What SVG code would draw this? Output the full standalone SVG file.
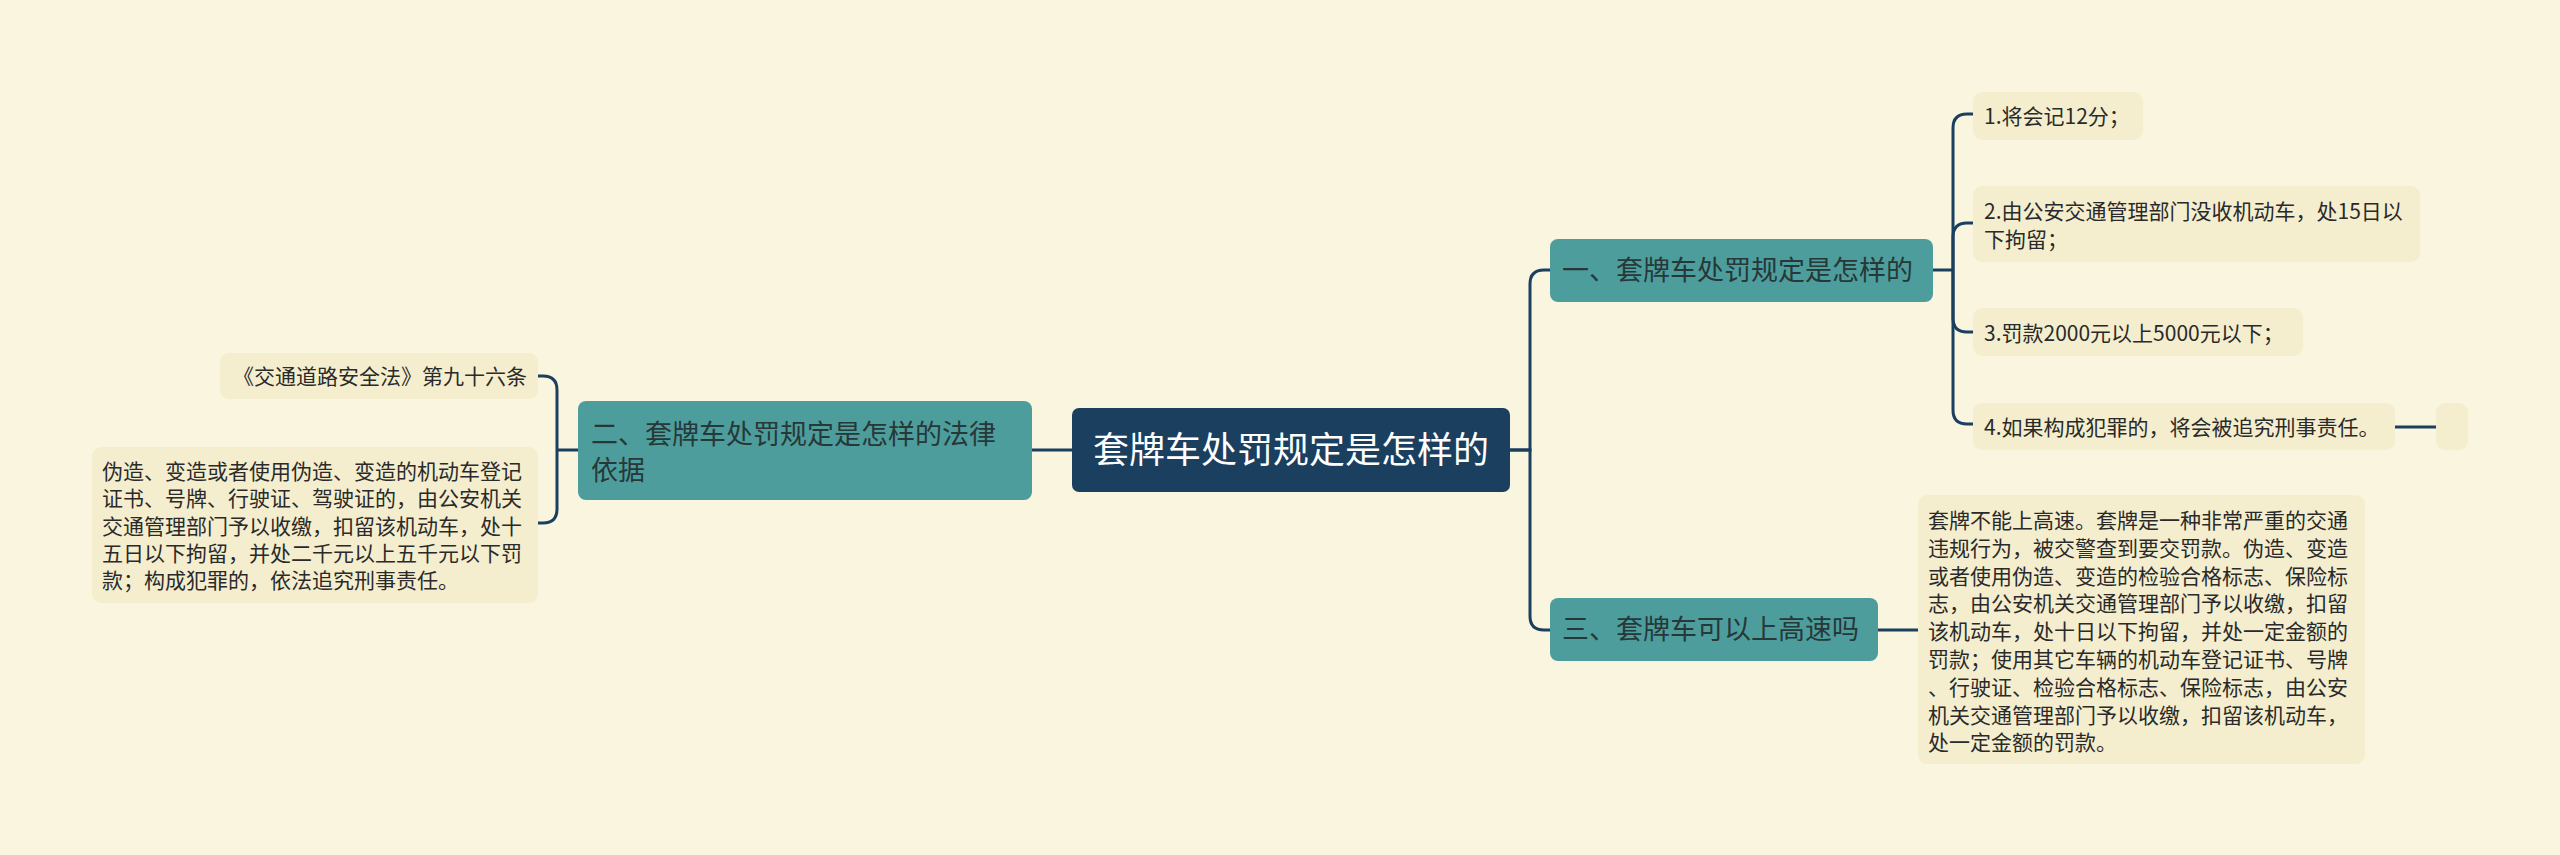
<svg xmlns="http://www.w3.org/2000/svg" width="2560" height="855" viewBox="0 0 2560 855">
<style>
text{font-family:"Noto Sans CJK SC","Noto Sans",sans-serif;}
.root{fill:#1a3f5f;}
.rt{fill:#ffffff;font-size:36px;}
.br{fill:#4e9d9d;}
.bt{fill:#263838;font-size:27px;}
.lf{fill:#f4eecf;}
.lt{fill:#2a2a2a;font-size:21px;}
.ltl{fill:#2a2a2a;font-size:21px;}
.cn{fill:none;stroke:#1a3f5f;stroke-width:3;}
</style>
<rect width="2560" height="855" fill="#faf5df"/>
<g id="connectors">
<path class="cn" d="M1510,450 H1530 V284 Q1530,270 1544,270 H1550"/>
<path class="cn" d="M1510,450 H1530 V616 Q1530,630 1544,630 H1550"/>
<path class="cn" d="M1072,450 H1032"/>
<path class="cn" d="M578,450 H557"/>
<path class="cn" d="M557,450 V390 Q557,376 543,376 H538"/>
<path class="cn" d="M557,450 V509 Q557,523 543,523 H538"/>
<path class="cn" d="M1933,270 H1953"/>
<path class="cn" d="M1953,270 V128 Q1953,114 1967,114 H1973"/>
<path class="cn" d="M1953,270 V237 Q1953,223 1967,223 H1973"/>
<path class="cn" d="M1953,270 V318 Q1953,332 1967,332 H1973"/>
<path class="cn" d="M1953,270 V410 Q1953,424 1967,424 H1973"/>
<path class="cn" d="M2395,427 H2436"/>
<path class="cn" d="M1878,630 H1918"/>
</g>
<g id="root">
<rect class="root" x="1072" y="408" width="438" height="84" rx="7"/>
<text class="rt" x="1291" y="463" text-anchor="middle">套牌车处罚规定是怎样的</text>
</g>
<g id="b1">
<rect class="br" x="1550" y="239" width="383" height="63" rx="8"/>
<text class="bt" x="1562" y="280">一、套牌车处罚规定是怎样的</text>
</g>
<g id="b2">
<rect class="br" x="578" y="401" width="454" height="99" rx="8"/>
<text class="bt" x="591" y="444">二、套牌车处罚规定是怎样的法律</text>
<text class="bt" x="591" y="480">依据</text>
</g>
<g id="b3">
<rect class="br" x="1550" y="598" width="328" height="63" rx="8"/>
<text class="bt" x="1562" y="639">三、套牌车可以上高速吗</text>
</g>
<g id="c1">
<rect class="lf" x="1973" y="92" width="170" height="48" rx="9"/>
<text class="lt" x="1984" y="124">1.将会记12分；</text>
</g>
<g id="c2">
<rect class="lf" x="1973" y="186" width="447" height="76" rx="9"/>
<text class="lt" x="1984" y="219">2.由公安交通管理部门没收机动车，处15日以</text>
<text class="lt" x="1984" y="247">下拘留；</text>
</g>
<g id="c3">
<rect class="lf" x="1973" y="308" width="330" height="48" rx="9"/>
<text class="lt" x="1984" y="341">3.罚款2000元以上5000元以下；</text>
</g>
<g id="c4">
<rect class="lf" x="1973" y="403" width="422" height="47" rx="9"/>
<text class="lt" x="1984" y="435">4.如果构成犯罪的，将会被追究刑事责任。</text>
</g>
<g id="c5">
<rect class="lf" x="2436" y="403" width="32" height="47" rx="9"/>
</g>
<g id="c6">
<rect class="lf" x="1918" y="495" width="447" height="269" rx="9"/>
<text class="ltl" x="1928" y="528">套牌不能上高速。套牌是一种非常严重的交通</text>
<text class="ltl" x="1928" y="556">违规行为，被交警查到要交罚款。伪造、变造</text>
<text class="ltl" x="1928" y="584">或者使用伪造、变造的检验合格标志、保险标</text>
<text class="ltl" x="1928" y="611">志，由公安机关交通管理部门予以收缴，扣留</text>
<text class="ltl" x="1928" y="639">该机动车，处十日以下拘留，并处一定金额的</text>
<text class="ltl" x="1928" y="667">罚款；使用其它车辆的机动车登记证书、号牌</text>
<text class="ltl" x="1928" y="695">、行驶证、检验合格标志、保险标志，由公安</text>
<text class="ltl" x="1928" y="723">机关交通管理部门予以收缴，扣留该机动车，</text>
<text class="ltl" x="1928" y="750">处一定金额的罚款。</text>
</g>
<g id="l1">
<rect class="lf" x="220" y="353" width="318" height="46" rx="9"/>
<text class="ltl" x="527" y="384" text-anchor="end">《交通道路安全法》第九十六条</text>
</g>
<g id="l2">
<rect class="lf" x="92" y="447" width="446" height="156" rx="9"/>
<text class="ltl" x="102" y="479">伪造、变造或者使用伪造、变造的机动车登记</text>
<text class="ltl" x="102" y="506">证书、号牌、行驶证、驾驶证的，由公安机关</text>
<text class="ltl" x="102" y="534">交通管理部门予以收缴，扣留该机动车，处十</text>
<text class="ltl" x="102" y="561">五日以下拘留，并处二千元以上五千元以下罚</text>
<text class="ltl" x="102" y="588">款；构成犯罪的，依法追究刑事责任。</text>
</g>
</svg>
